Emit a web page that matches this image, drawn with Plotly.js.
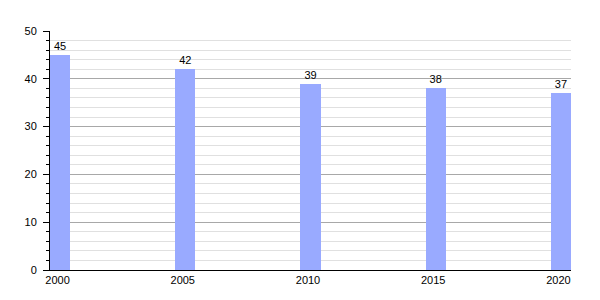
<!DOCTYPE html>
<html>
<head>
<meta charset="utf-8">
<script src="https://cdn.plot.ly/plotly-3.0.1.min.js"></script>
<style>html,body{margin:0;padding:0;background:#fff;}#chart{width:600px;height:300px;}</style>
</head>
<body>
<div id="chart"></div>
<script>
const years = [2000, 2005, 2010, 2015, 2020];
const values = [45, 42, 39, 38, 37];
const tickLabels = ["2000", "2005", "2010", "2015", "2020"];

const barWidth = 0.8;
const trace = {
  type: 'bar',
  x: years,
  y: values,
  width: years.map(() => barWidth),
  offset: 0,
  marker: {color: '#99aaff', line: {width: 0}},
  text: values.map(String),
  textposition: 'outside',
  textfont: {family: 'Liberation Sans, Arial, sans-serif', size: 11, color: '#000'},
  cliponaxis: false,
  hoverinfo: 'none'
};

const layout = {
  width: 600, height: 300,
  margin: {l: 50, r: 29, t: 31, b: 30},
  paper_bgcolor: '#fff', plot_bgcolor: '#fff',
  showlegend: false,
  font: {family: 'Liberation Sans, Arial, sans-serif', size: 11, color: '#000'},
  xaxis: {
    range: [2000, 2020 + barWidth],
    tickvals: years.map(y => y + 0.3),
    ticktext: tickLabels,
    ticks: '',
    showgrid: false,
    zeroline: false,
    showline: true, linecolor: '#000', linewidth: 1,
    tickfont: {size: 11, color: '#000'}
  },
  yaxis: {
    range: [0, 50],
    dtick: 10,
    ticks: 'outside', ticklen: 6, tickcolor: '#000',
    ticklabelstandoff: 4,
    showline: true, linecolor: '#000', linewidth: 1,
    gridcolor: '#a8a8a8',
    zeroline: false,
    tickfont: {size: 11, color: '#000'},
    minor: {dtick: 2, ticks: 'outside', ticklen: 3, tickcolor: '#000', showgrid: true, gridcolor: '#e0e0e0'}
  },
  bargap: 0
};

Plotly.newPlot('chart', [trace], layout, {staticPlot: true, displayModeBar: false});
</script>
</body>
</html>
